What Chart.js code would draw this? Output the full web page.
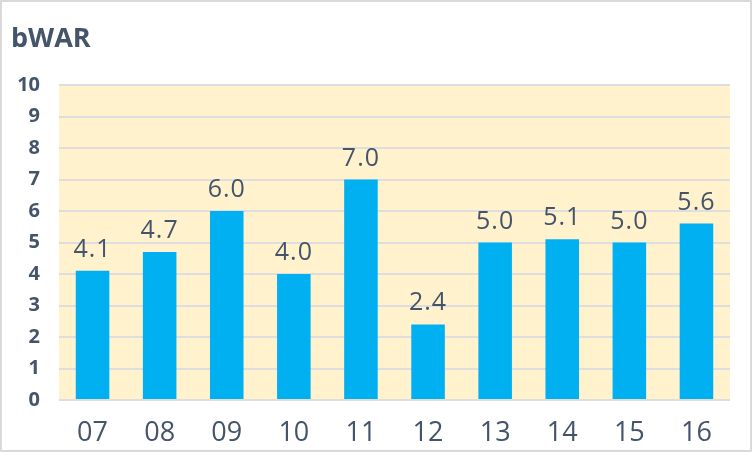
<!DOCTYPE html>
<html>
<head>
<meta charset="utf-8">
<script src="https://cdn.jsdelivr.net/npm/chart.js@4"></script>
<style>
  html, body { margin: 0; padding: 0; background: #ffffff; }
  #wrap { width: 752px; height: 452px; box-sizing: border-box; border: 2px solid #d9d9d9; position: relative; }
  #warChart { display: block; }
</style>
</head>
<body>
<div id="wrap"><canvas id="warChart" width="748" height="448"></canvas></div>
<script>
const seasons = ['07', '08', '09', '10', '11', '12', '13', '14', '15', '16'];
const bwar = [4.1, 4.7, 6.0, 4.0, 7.0, 2.4, 5.0, 5.1, 5.0, 5.6];
const yTicks = [0, 1, 2, 3, 4, 5, 6, 7, 8, 9, 10];

const textColor = '#44546a';
const fontFamily = '"Open Sans", "Noto Sans", sans-serif';

// yellow plot background + title in the top left corner
const plotBg = {
  id: 'plotBg',
  beforeDraw(chart) {
    const { ctx, chartArea: a } = chart;
    ctx.save();
    ctx.fillStyle = '#fff2cc';
    ctx.fillRect(a.left, a.top, a.right - a.left, a.bottom - a.top);
    ctx.fillStyle = textColor;
    ctx.font = 'bold 27px ' + fontFamily;
    ctx.textAlign = 'left';
    ctx.textBaseline = 'alphabetic';
    ctx.fillText('bWAR', 9, 45);
    ctx.restore();
  }
};

// value labels above bars
const barLabels = {
  id: 'barLabels',
  afterDatasetsDraw(chart) {
    const ctx = chart.ctx;
    const meta = chart.getDatasetMeta(0);
    ctx.save();
    ctx.font = '25px ' + fontFamily;
    ctx.fillStyle = textColor;
    ctx.textAlign = 'center';
    ctx.textBaseline = 'alphabetic';
    if ('letterSpacing' in ctx) ctx.letterSpacing = '1px';
    meta.data.forEach((bar, i) => {
      ctx.fillText(bwar[i].toFixed(1), bar.x, bar.y - 14);
    });
    ctx.restore();
  }
};

const ctx = document.getElementById('warChart').getContext('2d');

new Chart(ctx, {
  type: 'bar',
  data: {
    labels: seasons,
    datasets: [{
      label: 'bWAR',
      data: bwar,
      backgroundColor: '#00b0f0',
      borderWidth: 0,
      categoryPercentage: 1.0,
      barPercentage: 0.5
    }]
  },
  options: {
    responsive: false,
    animation: false,
    layout: {
      padding: { left: 0, right: 20, top: 83, bottom: 0 }
    },
    scales: {
      y: {
        min: 0,
        max: 10,
        afterBuildTicks: axis => { axis.ticks = yTicks.map(v => ({ value: v })); },
        afterFit: axis => { axis.width = 57; },
        grid: { color: '#dedede', lineWidth: 2, drawTicks: false },
        border: { display: false },
        ticks: {
          color: textColor,
          font: { family: fontFamily, size: 20, weight: 'bold' },
          padding: 19
        }
      },
      x: {
        afterFit: axis => { axis.height = 50; },
        grid: { display: false },
        border: { display: false },
        ticks: {
          color: textColor,
          font: { family: fontFamily, size: 27 },
          padding: 9
        }
      }
    },
    plugins: {
      legend: { display: false },
      tooltip: { enabled: false },
      title: { display: false }
    }
  },
  plugins: [plotBg, barLabels]
});
</script>
</body>
</html>
